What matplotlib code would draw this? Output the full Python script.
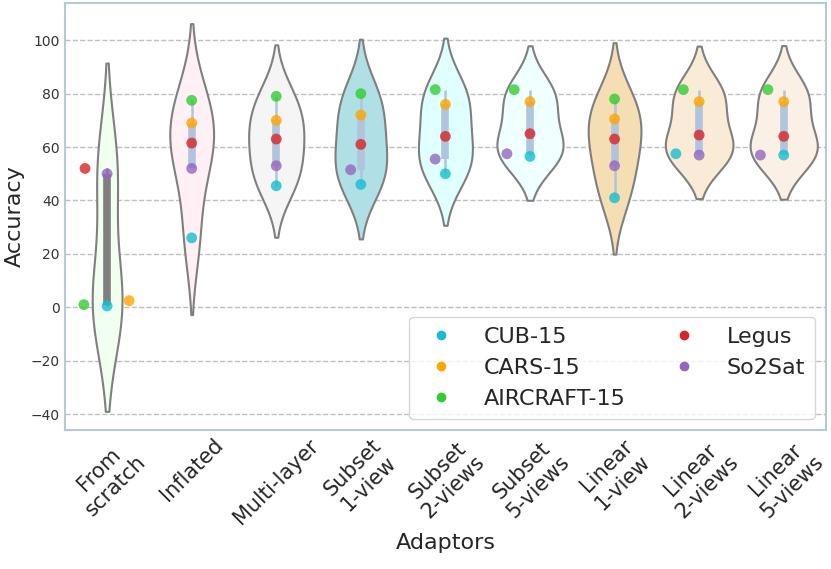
import numpy as np
import pandas as pd
import matplotlib
matplotlib.use('Agg')
import matplotlib.pyplot as plt
import seaborn as sns
from matplotlib.lines import Line2D

adaptors = ['From\nscratch', 'Inflated', 'Multi-layer', 'Subset\n1-view', 'Subset\n2-views',
            'Subset\n5-views', 'Linear\n1-view', 'Linear\n2-views', 'Linear\n5-views']
datasets = ['CUB-15', 'CARS-15', 'AIRCRAFT-15', 'Legus', 'So2Sat']

# accuracy per adaptor, order: CUB, CARS, AIRCRAFT, Legus, So2Sat
cub = [0.5, 26.0, 45.5, 46.0, 50.0, 56.5, 41.0, 57.5, 57.0]
cars = [2.5, 69.0, 70.0, 72.0, 76.0, 77.0, 70.5, 77.0, 77.0]
aircraft = [1.0, 77.5, 79.0, 80.0, 81.5, 81.5, 78.0, 81.5, 81.5]
legus = [52.0, 61.5, 63.0, 61.0, 64.0, 65.0, 63.0, 64.5, 64.0]
so2sat = [50.0, 52.0, 53.0, 51.5, 55.5, 57.5, 53.0, 57.0, 57.0]

violin_colors = ['honeydew', 'lavenderblush', 'whitesmoke', 'powderblue', 'lightcyan',
                 'azure', 'wheat', 'antiquewhite', 'linen']
point_colors = ['#17becf', '#ffa500', '#32cd32', '#d62728', '#9467bd']

rows = []
for name, vals in zip(datasets, [cub, cars, aircraft, legus, so2sat]):
    for a, v in zip(adaptors, vals):
        rows.append((a, name, v))
df = pd.DataFrame(rows, columns=['Adaptors', 'Dataset', 'Accuracy'])

sns.set_style('whitegrid')
fig = plt.figure(figsize=(8.31, 5.69), dpi=100)
ax = fig.add_axes([0.078, 0.244, 0.916, 0.751])

sns.violinplot(data=df, x='Adaptors', y='Accuracy', hue='Adaptors', order=adaptors,
               palette=violin_colors, saturation=1, inner=None, linewidth=1.5,
               linecolor='#7f7f7f', common_norm=True, legend=False, ax=ax)

# inner boxes
for i, a in enumerate(adaptors):
    v = df.loc[df['Adaptors'] == a, 'Accuracy'].values
    q1, q3 = np.percentile(v, [25, 75])
    iqr = q3 - q1
    lo = v[v >= q1 - 1.5 * iqr].min()
    hi = v[v <= q3 + 1.5 * iqr].max()
    c = '#7f7f7f' if i == 0 else '#b0c4de'
    ax.vlines(i, lo, hi, color=c, lw=1.8, zorder=3)
    ax.vlines(i, q1, q3, color=c, lw=5.5, zorder=3)

sns.swarmplot(data=df, x='Adaptors', y='Accuracy', hue='Dataset', order=adaptors,
              palette=point_colors, size=7.8, alpha=0.8, linewidth=8.2, edgecolor='none',
              legend=False, ax=ax, zorder=4)

ax.set_ylim(-46, 114)
ax.set_yticks(np.arange(-40, 101, 20))

# swarm laid out on a taller axes, then frozen
fig.set_size_inches(8.31, 7.74)
fig.canvas.draw()
for coll in ax.collections:
    if 'draw' in coll.__dict__:
        del coll.draw
fig.set_size_inches(8.31, 5.69)

ax.grid(axis='x', visible=False)
ax.grid(axis='y', linestyle='--', color='#c0c0c0', lw=1)
for s in ax.spines.values():
    s.set_color('#b8c8dc')
    s.set_linewidth(1.5)
ax.tick_params(axis='y', labelsize=10, colors='#333333', length=0)
ax.tick_params(axis='x', labelsize=15, length=0)
plt.setp(ax.get_xticklabels(), rotation=45, ha='center')
ax.set_xlabel('Adaptors', fontsize=16)
ax.set_ylabel('Accuracy', fontsize=16)

handles = [Line2D([], [], marker='o', ls='', color=c, markersize=6) for c in point_colors]
ax.legend(handles, datasets, loc='lower right', ncol=2, fontsize=16, frameon=True,
          handletextpad=0.9, columnspacing=1.65, borderpad=0.45, labelspacing=0.5,
          bbox_to_anchor=(1.0, 0.0))

fig.savefig('out.png', dpi=100)
